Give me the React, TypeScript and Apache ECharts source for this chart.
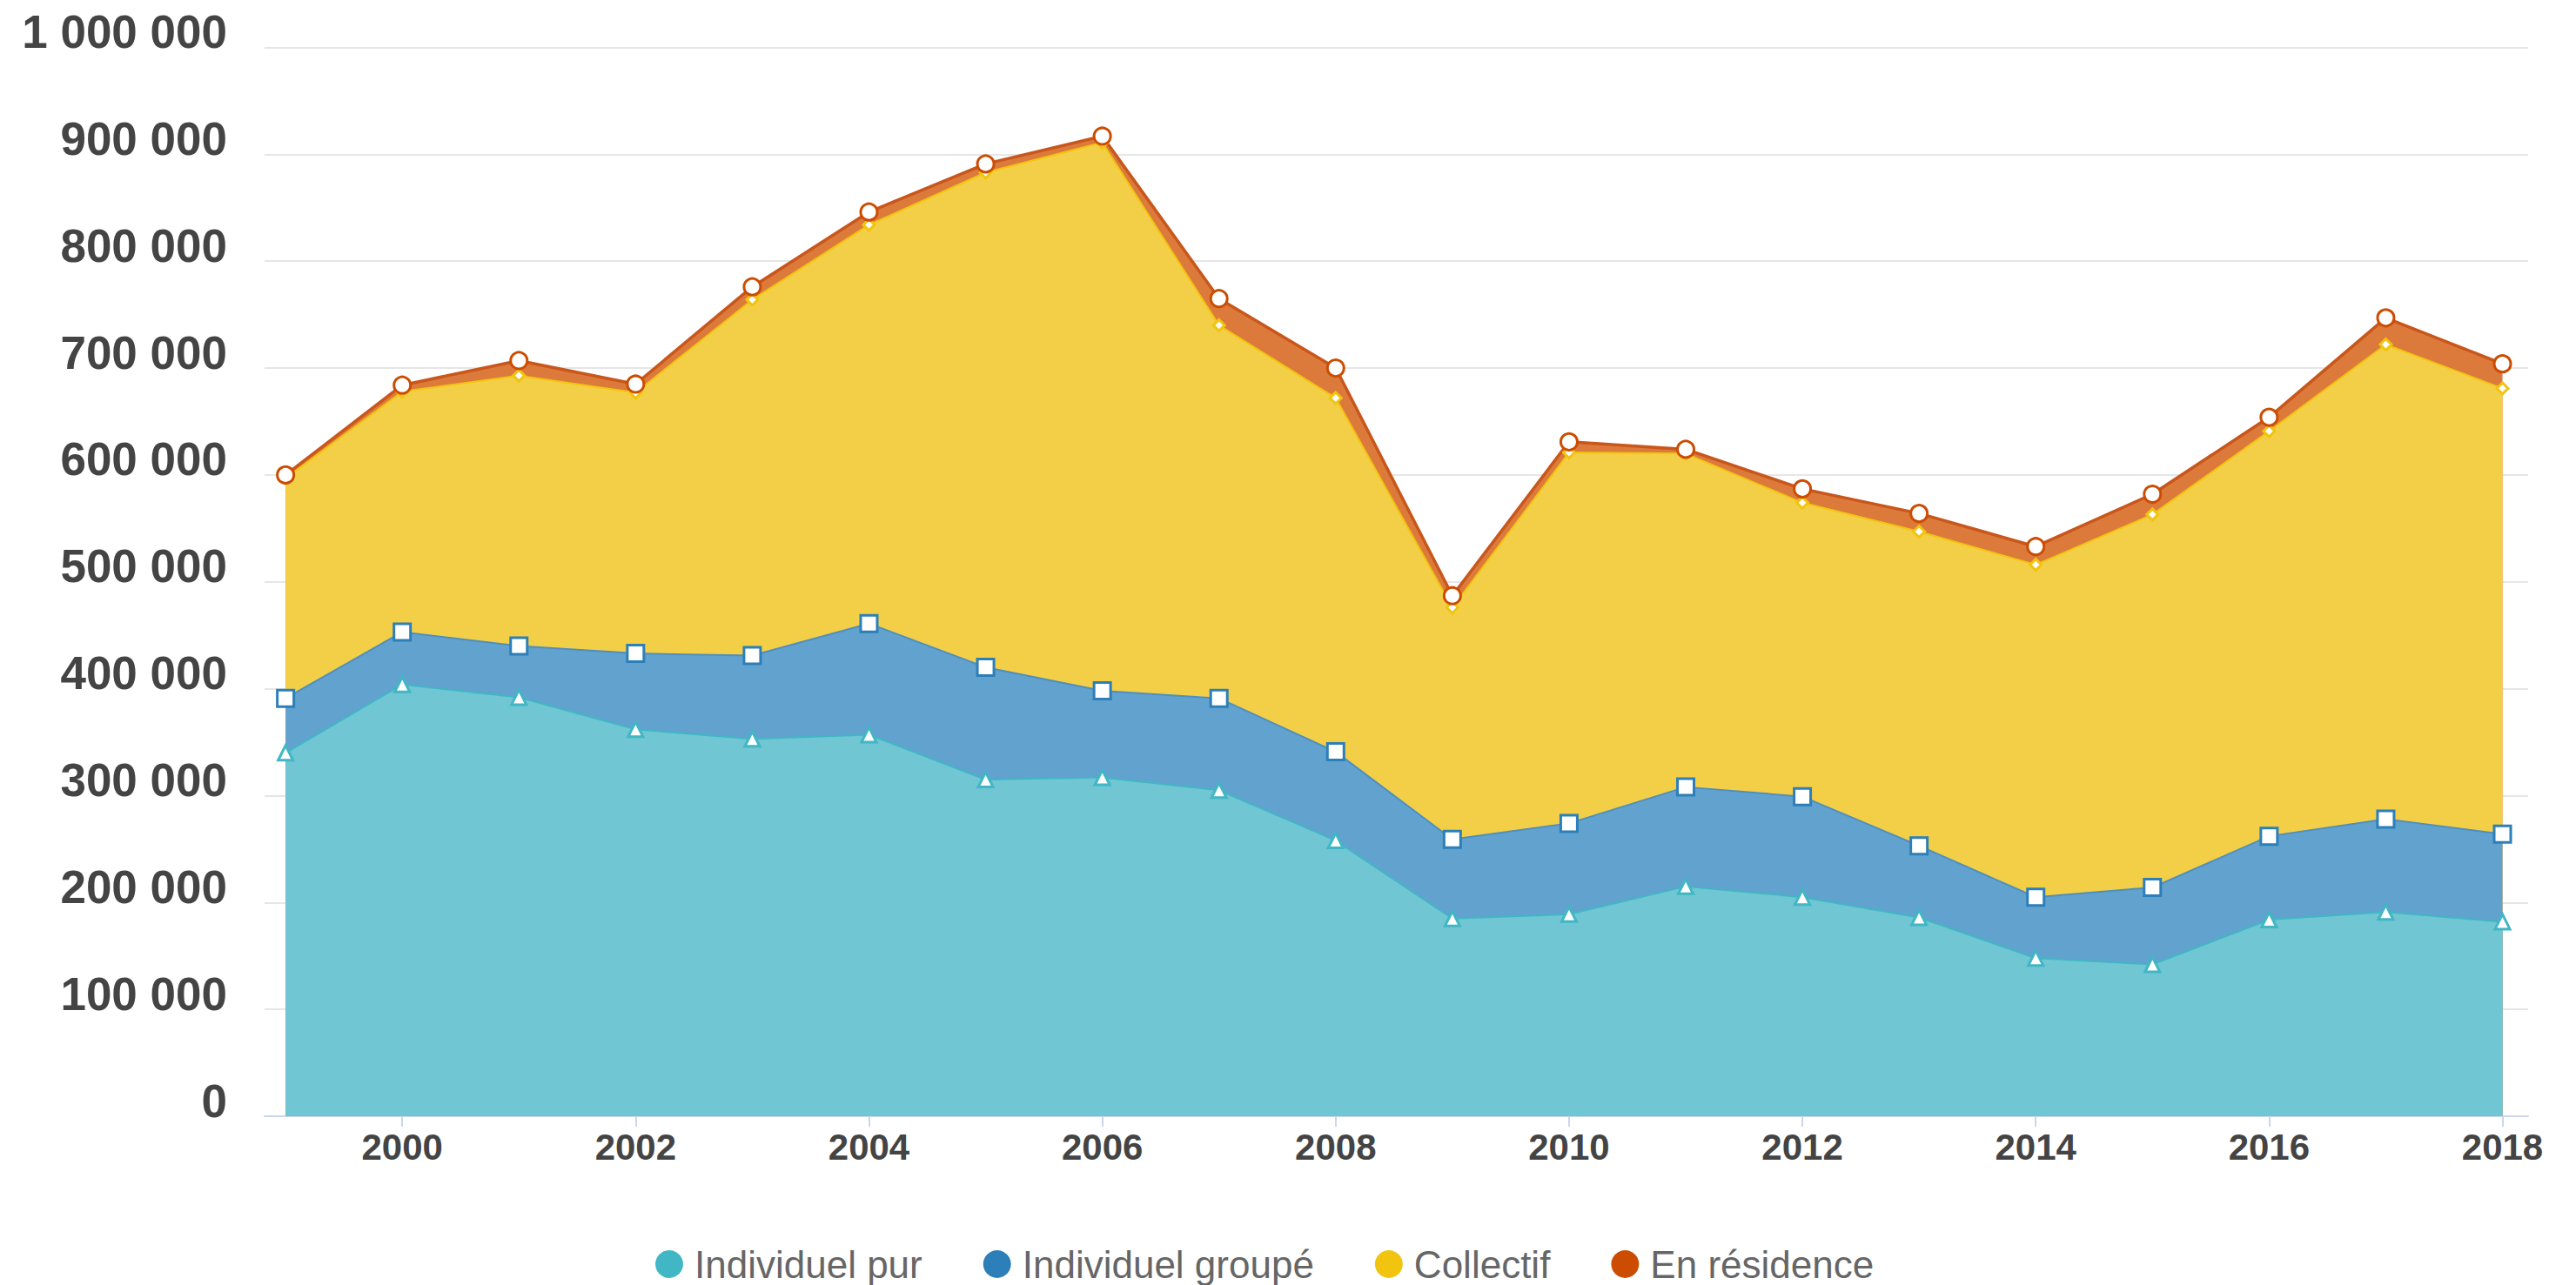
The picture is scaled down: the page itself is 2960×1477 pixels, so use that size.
import React, { useEffect, useRef } from "react";
import * as echarts from "echarts";

const years = [1999, 2000, 2001, 2002, 2003, 2004, 2005, 2006, 2007, 2008, 2009, 2010, 2011, 2012, 2013, 2014, 2015, 2016, 2017, 2018];
const xTickYears = [2000, 2002, 2004, 2006, 2008, 2010, 2012, 2014, 2016, 2018];

const individuelPur = [340000, 404000, 392000, 362000, 353000, 357000, 315000, 317000, 305000, 258000, 185000, 189000, 215000, 205000, 186000, 148000, 142000, 184000, 191000, 182000];
const individuelGroupe = [51000, 49000, 48000, 71000, 78000, 104000, 105000, 81000, 86000, 83000, 74000, 85000, 93000, 94000, 67000, 57000, 72000, 78000, 87000, 82000];
const collectif = [206000, 225000, 253000, 244000, 333000, 373000, 463000, 513000, 349000, 331000, 217000, 347000, 312000, 275000, 294000, 311000, 349000, 379000, 444000, 417000];
const enResidence = [3000, 6000, 14000, 8000, 12000, 12000, 8000, 6000, 25000, 28000, 11000, 10000, 4000, 13000, 17000, 17000, 19000, 13000, 25000, 23000];

const seriesNames = ["Individuel pur", "Individuel groupé", "Collectif", "En résidence"];
const seriesColors = ["#41b6c4", "#2c7fb8", "#f1c40f", "#cc4c02"];
const areaColors = ["#70c6d2", "#62a2cf", "#f3cf48", "#dc7a3c"];
const lineColors = ["#41b6c4", "#4f8fbf", "#f1c40f", "#c9561a"];
const seriesSymbols = ["triangle", "rect", "diamond", "circle"];
const seriesSymbolSizes = [17, 19, 13, 19];

function fmt(v: number): string {
  return String(v).replace(/\B(?=(\d{3})+(?!\d))/g, " ");
}

export default function App() {
  const ref = useRef<HTMLDivElement>(null);
  useEffect(() => {
    if (!ref.current) return;
    const chart = echarts.init(ref.current, null, { renderer: "svg" });
    const parts = [individuelPur, individuelGroupe, collectif, enResidence];
    // cumulative (stacked) totals computed from the component arrays
    const cumulative: number[][] = [];
    parts.forEach((arr, i) => {
      cumulative.push(arr.map((v, k) => v + (i > 0 ? cumulative[i - 1][k] : 0)));
    });
    const areaSeries = [3, 2, 1, 0].map((i) => ({
      name: seriesNames[i],
      type: "line",
      z: 1,
      silent: true,
      data: years.map((y, k) => [y, cumulative[i][k]]),
      symbol: "none",
      lineStyle: { width: 0, opacity: 0 },
      areaStyle: { color: areaColors[i], opacity: 1, origin: "start" },
      emphasis: { disabled: true },
    }));
    const lineSeries = [0, 1, 2, 3].map((i) => ({
      name: seriesNames[i],
      type: "line",
      z: 2,
      data: years.map((y, k) => [y, cumulative[i][k]]),
      symbol: seriesSymbols[i],
      symbolSize: seriesSymbolSizes[i],
      showSymbol: true,
      showAllSymbol: true,
      lineStyle: { color: lineColors[i], width: i === 3 ? 3.5 : 2 },
      itemStyle: { color: "#ffffff", borderColor: seriesColors[i], borderWidth: 3 },
      emphasis: { disabled: true },
    }));
    chart.setOption({
      animation: false,
      backgroundColor: "#ffffff",
      grid: { left: 304, right: 55, top: 54.5, bottom: 194, containLabel: false },
      xAxis: {
        type: "value",
        min: 1998.82,
        max: 2018.22,
        splitLine: { show: false },
        axisLine: { show: true, lineStyle: { color: "#ccd6eb", width: 2 } },
        axisTick: { show: true, length: 12, lineStyle: { color: "#ccd6eb", width: 2 }, customValues: xTickYears },
        axisLabel: {
          customValues: xTickYears,
          fontSize: 42,
          fontWeight: "bold",
          color: "#444444",
          fontFamily: "Liberation Sans, Arial, sans-serif",
          margin: 14,
          formatter: (v: number) => String(Math.round(v)),
        },
      },
      yAxis: {
        type: "value",
        min: 0,
        max: 1000000,
        interval: 100000,
        axisLine: { show: false },
        axisTick: { show: false },
        splitLine: { show: true, lineStyle: { color: "#e6e6e6", width: 2 } },
        axisLabel: {
          fontSize: 53,
          fontWeight: "bold",
          color: "#444444",
          fontFamily: "Liberation Sans, Arial, sans-serif",
          margin: 43,
          verticalAlign: "bottom",
          lineHeight: 36,
          formatter: (v: number) => fmt(v),
        },
      },
      legend: {
        top: 1426,
        left: 748,
        icon: "circle",
        itemWidth: 32,
        itemHeight: 32,
        itemGap: 70,
        textStyle: {
          fontSize: 44,
          color: "#666666",
          fontFamily: "Liberation Sans, Arial, sans-serif",
          padding: [0, 0, 0, 8],
        },
        data: seriesNames.map((n, i) => ({ name: n, itemStyle: { color: seriesColors[i], borderWidth: 0 } })),
      },
      series: [...areaSeries, ...lineSeries],
    });
    return () => chart.dispose();
  }, []);
  return <div ref={ref} style={{ position: "fixed", left: 0, top: 0, width: "2960px", height: "1477px" }} />;
}
